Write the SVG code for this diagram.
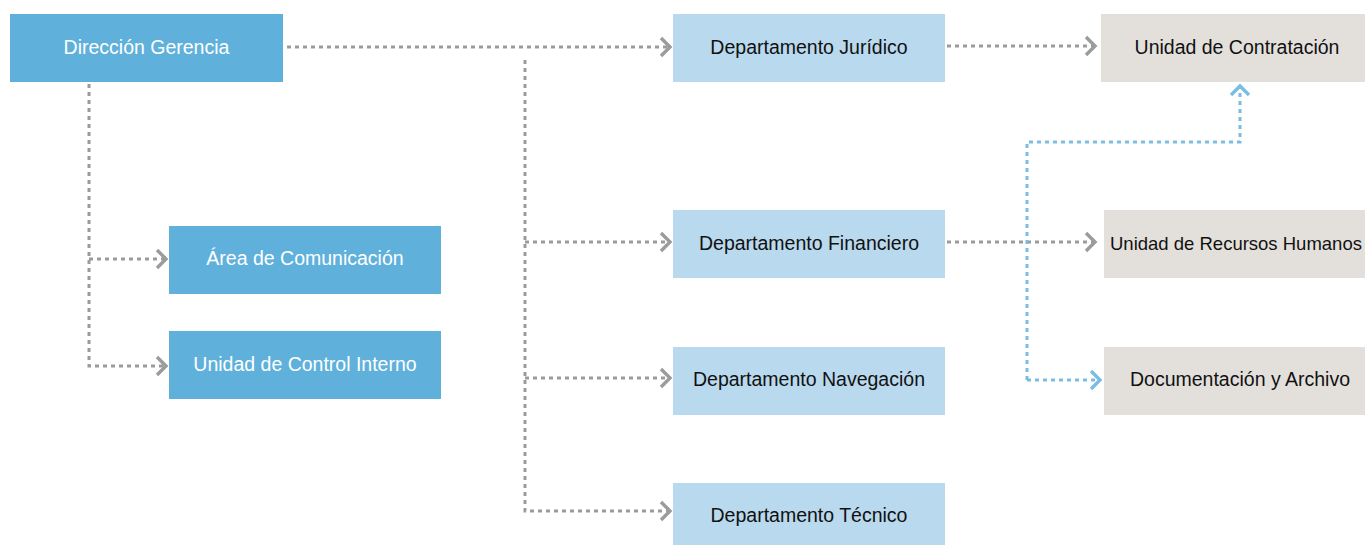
<svg xmlns="http://www.w3.org/2000/svg" width="1365" height="545" viewBox="0 0 1365 545">
<defs>
<style>
.dark{fill:#5fb1db}
.light{fill:#b9d9ee}
.beige{fill:#e3e0dc}
.tw{font-family:"Liberation Sans",Arial,sans-serif;font-size:19.5px;fill:#ffffff;text-anchor:middle;dominant-baseline:central}
.tk{font-family:"Liberation Sans",Arial,sans-serif;font-size:19.5px;fill:#111111;text-anchor:middle;dominant-baseline:central}
.g{fill:none;stroke:#9b9b9b;stroke-width:3;stroke-dasharray:4 4}
.b{fill:none;stroke:#7bbde2;stroke-width:3;stroke-dasharray:4 4}
</style>
<marker id="ag" markerUnits="userSpaceOnUse" markerWidth="14" markerHeight="22" refX="11" refY="11" orient="auto" viewBox="0 0 14 22">
<path d="M2,2 L11,11 L2,20" fill="none" stroke="#9b9b9b" stroke-width="3.4"/>
</marker>
<marker id="ab" markerUnits="userSpaceOnUse" markerWidth="14" markerHeight="22" refX="11" refY="11" orient="auto" viewBox="0 0 14 22">
<path d="M2,2 L11,11 L2,20" fill="none" stroke="#7bbde2" stroke-width="3.4"/>
</marker>
</defs>
<rect width="1365" height="545" fill="#ffffff"/>
<g id="connectors">
<path class="g" d="M287,47 H670" marker-end="url(#ag)"/>
<path class="g" d="M525,60 V511 H670" marker-end="url(#ag)"/>
<path class="g" d="M525,242 H670" marker-end="url(#ag)"/>
<path class="g" d="M525,378 H670" marker-end="url(#ag)"/>
<path class="g" d="M89,84 V366 H166" marker-end="url(#ag)"/>
<path class="g" d="M89,259 H166" marker-end="url(#ag)"/>
<path class="g" d="M947,46 H1095" marker-end="url(#ag)"/>
<path class="g" d="M947,242 H1095" marker-end="url(#ag)"/>
<path class="b" d="M1027,380 V142 H1240 V86" marker-end="url(#ab)"/>
<path class="b" d="M1027,380 H1100" marker-end="url(#ab)"/>
</g>
<g id="n1"><rect class="dark" x="10" y="14" width="273" height="68"/><text class="tw" x="146.5" y="47">Dirección Gerencia</text></g>
<g id="n2"><rect class="dark" x="169" y="226" width="272" height="68"/><text class="tw" x="305" y="258">Área de Comunicación</text></g>
<g id="n3"><rect class="dark" x="169" y="331" width="272" height="68"/><text class="tw" x="305" y="364">Unidad de Control Interno</text></g>
<g id="n4"><rect class="light" x="673" y="14" width="272" height="68"/><text class="tk" x="809" y="47">Departamento Jurídico</text></g>
<g id="n5"><rect class="light" x="673" y="210" width="272" height="68"/><text class="tk" x="809" y="243">Departamento Financiero</text></g>
<g id="n6"><rect class="light" x="673" y="347" width="272" height="68"/><text class="tk" x="809" y="379">Departamento Navegación</text></g>
<g id="n7"><rect class="light" x="673" y="483" width="272" height="62"/><text class="tk" x="809" y="515">Departamento Técnico</text></g>
<g id="n8"><rect class="beige" x="1101" y="14" width="264" height="68"/><text class="tk" x="1237" y="47">Unidad de Contratación</text></g>
<g id="n9"><rect class="beige" x="1104" y="210" width="261" height="68"/><text class="tk" x="1110" y="243" style="text-anchor:start;font-size:18.5px">Unidad de Recursos Humanos</text></g>
<g id="n10"><rect class="beige" x="1104" y="347" width="261" height="68"/><text class="tk" x="1240" y="379">Documentación y Archivo</text></g>
</svg>
